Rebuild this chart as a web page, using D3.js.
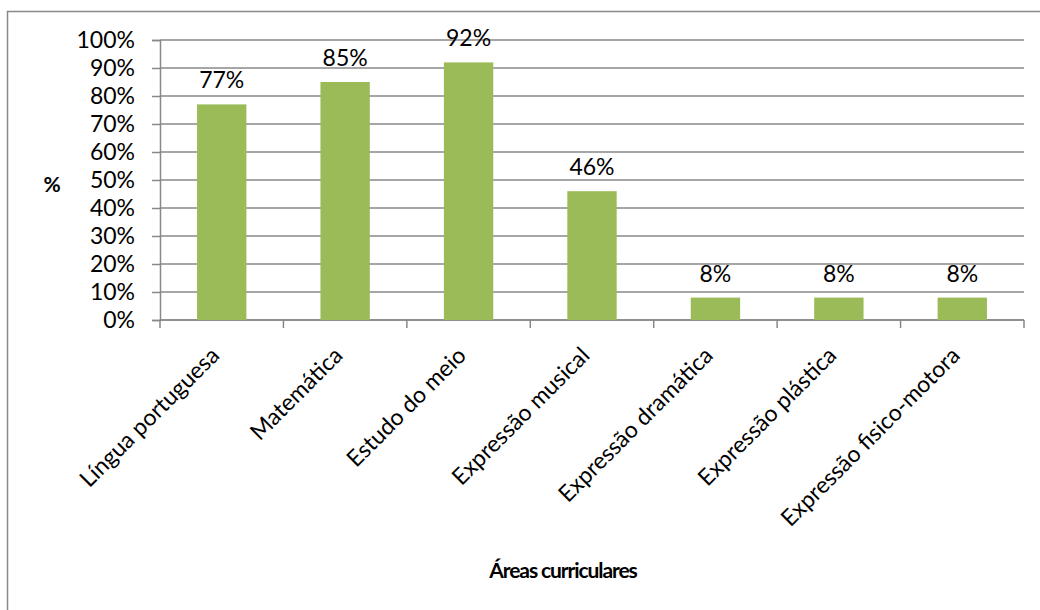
<!DOCTYPE html>
<html>
<head>
<meta charset="utf-8">
<script src="https://cdn.jsdelivr.net/npm/d3@7"></script>
<style>
  body { margin: 0; background: #fff; }
  text { font-family: Lato, "Open Sans", sans-serif; fill: #000; }
</style>
</head>
<body>
<div id="chart"></div>
<script>
// data
var categories = ["Língua portuguesa", "Matemática", "Estudo do meio", "Expressão musical",
                  "Expressão dramática", "Expressão plástica", "Expressão fisico-motora"];
var values = [77, 85, 92, 46, 8, 8, 8];
var yTicks = [0, 10, 20, 30, 40, 50, 60, 70, 80, 90, 100];

var W = 1040, H = 610;
var margin = {top: 40, right: 16, bottom: 290, left: 160},
    width = W - margin.left - margin.right,
    height = H - margin.top - margin.bottom;

var svg = d3.select("#chart")
  .append("svg")
    .attr("width", W)
    .attr("height", H);

// outer chart border (runs past right / bottom edge)
svg.append("rect")
  .attr("x", 7.5).attr("y", 11.5)
  .attr("width", 1100).attr("height", 700)
  .attr("fill", "none")
  .attr("stroke", "#898989")
  .attr("stroke-width", 1.5);

var g = svg.append("g")
  .attr("transform", "translate(" + margin.left + "," + margin.top + ")");

var x = d3.scaleBand()
  .domain(categories)
  .range([0, width])
  .paddingInner(0.6)
  .paddingOuter(0.3);

var y = d3.scaleLinear()
  .domain([0, 100])
  .range([height, 0]);

// gridlines
g.append("g")
  .selectAll("line")
  .data(yTicks)
  .enter()
  .append("line")
    .attr("x1", 0)
    .attr("x2", width)
    .attr("y1", function(d) { return y(d); })
    .attr("y2", function(d) { return y(d); })
    .attr("stroke", "#888")
    .attr("stroke-width", 1.5);

// y axis
var yAxis = g.append("g")
  .call(d3.axisLeft(y).tickValues(yTicks).tickSize(8).tickPadding(17)
        .tickFormat(function(d) { return d + "%"; }));
yAxis.selectAll("text").style("font-size", "23px");
yAxis.selectAll("line, path").attr("stroke", "#888").attr("stroke-width", 1.5);

// x axis: ticks at category boundaries
var bounds = d3.range(categories.length + 1).map(function(i) { return i * width / categories.length; });
var xAxis = g.append("g").attr("transform", "translate(0," + height + ")");
xAxis.append("line")
  .attr("x1", 0).attr("x2", width)
  .attr("stroke", "#888").attr("stroke-width", 1.5);
xAxis.selectAll(".tk")
  .data(bounds)
  .enter()
  .append("line")
    .attr("class", "tk")
    .attr("x1", function(d) { return d; })
    .attr("x2", function(d) { return d; })
    .attr("y1", 0).attr("y2", 8)
    .attr("stroke", "#888").attr("stroke-width", 1.5);

xAxis.selectAll(".lbl")
  .data(categories)
  .enter()
  .append("text")
    .attr("class", "lbl")
    .attr("text-anchor", "end")
    .style("font-size", "23px")
    .attr("transform", function(d) {
      return "translate(" + (x(d) + x.bandwidth() / 2 - 1) + ",37) rotate(-45)";
    })
    .text(function(d) { return d; });

// bars
g.append("g")
  .selectAll("rect")
  .data(values)
  .enter()
  .append("rect")
    .attr("x", function(d, i) { return x(categories[i]); })
    .attr("y", function(d) { return y(d); })
    .attr("width", x.bandwidth())
    .attr("height", function(d) { return height - y(d); })
    .attr("fill", "#9BBB59");

// data labels
g.append("g")
  .selectAll("text")
  .data(values)
  .enter()
  .append("text")
    .attr("x", function(d, i) { return x(categories[i]) + x.bandwidth() / 2; })
    .attr("y", function(d) { return y(d) - 16; })
    .attr("text-anchor", "middle")
    .style("font-size", "23px")
    .text(function(d) { return d + "%"; });

// axis titles
svg.append("text")
  .attr("x", 52)
  .attr("y", 192)
  .attr("text-anchor", "middle")
  .style("font-size", "21px")
  .style("font-weight", "bold")
  .text("%");

svg.append("text")
  .attr("x", 563)
  .attr("y", 578)
  .attr("text-anchor", "middle")
  .style("font-size", "21px")
  .style("font-weight", "bold")
  .style("letter-spacing", "-1.1px")
  .text("Áreas curriculares");
</script>
</body>
</html>
